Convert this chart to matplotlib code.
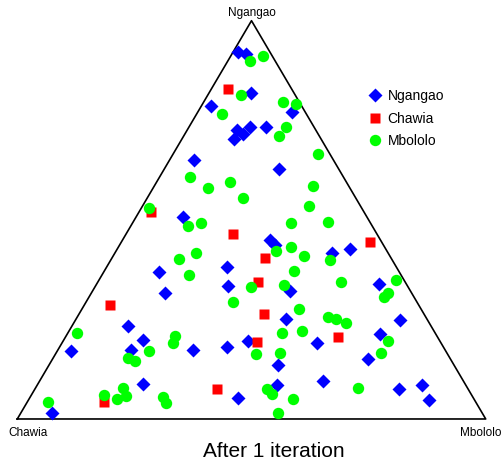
import matplotlib
matplotlib.use("Agg")
import matplotlib.pyplot as plt
import numpy as np

plt.rcParams['font.family'] = ['Liberation Sans', 'DejaVu Sans']

# Ternary plane coordinates (base 0..100 from Chawia to Mbololo, height 0..100 up to Ngangao)
ngangaoX = [47.1, 48.8, 49.9, 41.4, 58.6, 46.9, 49.7, 48.2, 46.3, 53.1, 37.7, 55.9, 35.4, 53.9, 55.0,
            71.0, 67.2, 44.8, 30.3, 45.0, 77.2, 31.5, 58.2, 23.6, 57.4, 81.7, 26.8, 49.3, 77.4, 64.0,
            44.8, 24.3, 11.5, 37.5, 74.9, 55.7, 26.8, 55.4, 65.3, 86.4, 81.5, 47.1, 87.9, 7.4]
ngangaoY = [92.1, 91.6, 81.8, 78.6, 77.1, 72.6, 73.3, 71.6, 70.3, 73.3, 65.0, 62.8, 50.7, 44.9, 43.7,
            42.7, 41.7, 38.2, 36.9, 33.4, 33.9, 31.6, 32.1, 23.3, 25.1, 24.9, 19.8, 19.6, 21.3, 19.1,
            18.1, 17.3, 17.1, 17.3, 15.1, 13.6, 8.8, 8.5, 9.5, 8.5, 7.5, 5.3, 4.8, 1.5]

chawiaX = [45.0, 28.5, 46.0, 75.3, 52.9, 51.4, 19.8, 52.7, 68.5, 51.2, 42.6, 18.5]
chawiaY = [82.9, 52.0, 46.4, 44.4, 40.4, 34.4, 28.6, 26.4, 20.6, 19.3, 7.5, 4.3]

mbololoX = [49.7, 52.5, 47.8, 56.7, 59.5, 43.7, 57.4, 55.9, 64.2, 36.9, 45.4, 63.1, 40.7, 48.2, 62.3,
            28.1, 39.2, 66.3, 58.4, 36.4, 58.4, 55.2, 38.2, 61.2, 34.5, 66.8, 59.1, 36.7, 80.8, 69.1,
            56.9, 49.9, 79.1, 78.3, 46.0, 60.1, 66.3, 68.0, 70.2, 60.8, 56.5, 12.7, 33.7, 33.2, 79.1,
            28.1, 77.6, 56.1, 51.0, 23.6, 25.1, 72.7, 22.6, 53.3, 54.4, 18.5, 23.2, 31.1, 58.9, 21.3,
            31.7, 6.6, 55.7]
mbololoY = [89.9, 91.1, 81.3, 79.6, 79.1, 76.6, 73.3, 71.1, 66.5, 60.8, 59.5, 58.5, 58.0, 55.5, 53.5,
            53.0, 49.2, 49.5, 49.2, 48.5, 43.2, 42.2, 41.7, 40.9, 40.2, 39.9, 37.2, 36.2, 34.9, 34.4,
            33.6, 33.1, 31.6, 30.6, 29.4, 27.6, 25.6, 25.1, 24.1, 22.1, 21.6, 21.6, 20.8, 19.1, 19.6,
            17.1, 16.6, 16.6, 16.3, 15.3, 14.6, 7.8, 7.8, 7.5, 6.3, 6.0, 5.8, 5.5, 5.0, 5.0,
            4.0, 4.3, 1.5]

vertexNames = ['Chawia', 'Mbololo', 'Ngangao']

fig = plt.figure(figsize=(5.03, 4.61), dpi=100)
ax = fig.add_axes([0, 0, 1, 1])
ax.set_xlim(-3.69, 103.69)
ax.set_ylim(-10.55, 105.2)
ax.axis('off')

# Triangle outline
ax.plot([0, 100, 50, 0], [0, 0, 100, 0], color='black', lw=1.2, zorder=1)

ax.plot(ngangaoX, ngangaoY, 'D', color='#0000ff', ms=7.0, mec='none', label='Ngangao', zorder=2)
ax.plot(chawiaX, chawiaY, 's', color='#ff0000', ms=7.2, mec='none', label='Chawia', zorder=3)
ax.plot(mbololoX, mbololoY, 'o', color='#00ff00', ms=8.2, mec='none', label='Mbololo', zorder=4)

# Vertex labels
ax.text(-2.0, -3.5, vertexNames[0], ha='left', va='center', fontsize=8.5)
ax.text(103.3, -3.5, vertexNames[1], ha='right', va='center', fontsize=8.5)
ax.text(50, 101.9, vertexNames[2], ha='center', va='center', fontsize=8.5)

fig.text(273.5 / 503, 1 - 451 / 461, 'After 1 iteration', ha='center', va='center', fontsize=15)

ax.legend(loc='upper left', bbox_to_anchor=(368 / 503, 1 - 89 / 461), bbox_transform=fig.transFigure,
          frameon=False, fontsize=10, handlelength=1.0, handletextpad=0.4, labelspacing=0.62,
          borderpad=0, borderaxespad=0)

fig.savefig('out.png', dpi=100)
